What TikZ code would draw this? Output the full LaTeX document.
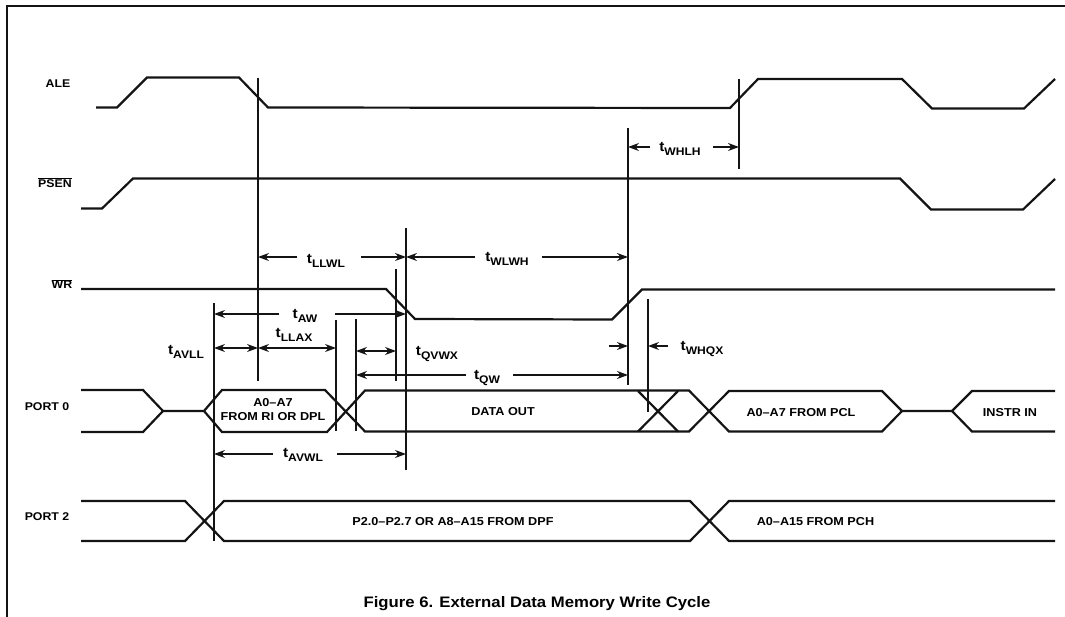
\documentclass[tikz,border=0pt]{standalone}
\usepackage{fontspec}
\setmainfont[FakeStretch=1.1]{Liberation Sans}
\usetikzlibrary{arrows.meta}
\newcommand{\tsub}[1]{{\fontsize{14}{14}\selectfont t}{\fontsize{11}{11}\selectfont\raisebox{-3.5pt}{#1}}}
\tikzset{
  signal/.style={line width=2.2pt,line join=miter,black!92},
  frameline/.style={line width=1.8pt,black!92},
  guide/.style={line width=1.2pt,black!92},
  dimarrow/.style={line width=1.1pt,black!92,-{Stealth[length=11pt,width=8pt]}},
  dimboth/.style={line width=1.1pt,black!92,{Stealth[length=11pt,width=8pt]}-{Stealth[length=11pt,width=8pt]}},
  siglabel/.style={inner sep=0pt,font=\bfseries\fontsize{11.2}{11.2}\selectfont},
  inlabel/.style={inner sep=0pt,font=\bfseries\fontsize{11.5}{11.5}\selectfont},
  timelabel/.style={inner sep=0pt,font=\bfseries},
  caption/.style={inner sep=0pt,font=\bfseries\fontsize{15.2}{15.2}\selectfont}
}
\begin{document}
\begin{tikzpicture}[x=1pt,y=-1pt]
\useasboundingbox (0,0) rectangle (1065,617);
% frame
\coordinate (fa) at (7,617);
\coordinate (fb) at (7,6);
\coordinate (fc) at (1065,6);
\draw[frameline] (fa) -- (fb) -- (fc);
% signal names
\node[siglabel] (ale) at (58,84) {ALE};
\node[siglabel] (psen) at (55,183) {$\overline{\mbox{PSEN}}$};
\node[siglabel] (wr) at (62,284) {$\overline{\mbox{WR}}$};
\node[siglabel] (port0) at (47,407) {PORT 0};
\node[siglabel] (port2) at (47,517) {PORT 2};
% waveforms
\draw[signal] (96,107.5) -- (117,107.5) -- (147,77.5) -- (239,77.5) -- (268,107.5) -- (730,108) -- (758,79) -- (902,79) -- (932,108.5) -- (1024,108.5) -- (1055,79);
\draw[signal] (81,208.5) -- (102,208.5) -- (133,178.5) -- (900,178.5) -- (931,209.5) -- (1023,209.5) -- (1055,179);
\draw[signal] (81,289) -- (386,289) -- (415,319) -- (612,319.5) -- (642,289.5) -- (1055,289.5);
% port 0
\draw[signal] (81,390) -- (143,390) -- (163,411) -- (204,411) -- (222,390) -- (325,390) -- (365,431.5) -- (689,431.5) -- (729,391) -- (882,391) -- (902,411) -- (952,411) -- (972,391) -- (1055,391);
\draw[signal] (81,432) -- (143,432) -- (163,411);
\draw[signal] (204,411) -- (222,432) -- (327,432) -- (365,390.5) -- (689,390.5) -- (729,431.5) -- (882,431.5) -- (902,411);
\draw[signal] (952,411) -- (972,431.5) -- (1055,431.5);
\draw[signal] (638,431.5) -- (678,391);
\draw[signal] (638,391) -- (678,431.5);
% port 2
\draw[signal] (81,501) -- (185,501) -- (224,541) -- (690,541) -- (729,501) -- (1055,501);
\draw[signal] (81,541) -- (185,541) -- (224,501) -- (690,501) -- (729,541) -- (1055,541);
% vertical guides
\coordinate (v1t) at (258,78);   \coordinate (v1b) at (258,381);
\coordinate (v2t) at (214,303); \coordinate (v2b) at (214,541);
\coordinate (v3t) at (406,228);  \coordinate (v3b) at (406,470);
\coordinate (v4t) at (396,269);  \coordinate (v4b) at (396,381);
\coordinate (v5t) at (336,320); \coordinate (v5b) at (336,431);
\coordinate (v6t) at (356,319);  \coordinate (v6b) at (356,431);
\coordinate (v7t) at (628,128);  \coordinate (v7b) at (628,385);
\coordinate (v8t) at (648,299);  \coordinate (v8b) at (648,412);
\coordinate (v9t) at (739,79);   \coordinate (v9b) at (739,169);
\foreach \v in {v1,v2,v3,v4,v5,v6,v7,v8,v9} \draw[guide] (\v t) -- (\v b);
% timing labels
\node[timelabel] (tllwl) at (326,261) {\tsub{LLWL}};
\node[timelabel] (twlwh) at (507,259) {\tsub{WLWH}};
\node[timelabel] (twhlh) at (680,149) {\tsub{WHLH}};
\node[timelabel] (taw) at (305,316) {\tsub{AW}};
\node[timelabel] (tllax) at (294,335) {\tsub{LLAX}};
\node[timelabel] (tavll) at (186,352) {\tsub{AVLL}};
\node[timelabel] (tqvwx) at (437,354) {\tsub{QVWX}};
\node[timelabel] (tqw) at (487,378) {\tsub{QW}};
\node[timelabel] (twhqx) at (702,349) {\tsub{WHQX}};
\node[timelabel] (tavwl) at (303,455) {\tsub{AVWL}};
% free ends of the dimension arrows
\coordinate (a1l) at (297,257);  \coordinate (a1r) at (361,257);
\coordinate (a2l) at (475,257);  \coordinate (a2r) at (542,257);
\coordinate (a3l) at (650,147);  \coordinate (a3r) at (713,147);
\coordinate (a4l) at (279,314);  \coordinate (a4r) at (335,314);
\coordinate (a5l) at (466,375);  \coordinate (a5r) at (513,375);
\coordinate (a6l) at (273,454);  \coordinate (a6r) at (337,454);
\coordinate (a7l) at (609,346);  \coordinate (a7r) at (668,346);
\coordinate (a8) at (258,348);   \coordinate (a9) at (356,351);
% dimension arrows
\draw[dimarrow] (a1l) -- (a1l -| v1t);
\draw[dimarrow] (a1r) -- (a1r -| v3t);
\draw[dimarrow] (a2l) -- (a2l -| v3t);
\draw[dimarrow] (a2r) -- (a2r -| v7t);
\draw[dimarrow] (a3l) -- (a3l -| v7t);
\draw[dimarrow] (a3r) -- (a3r -| v9t);
\draw[dimarrow] (a4l) -- (a4l -| v2t);
\draw[dimarrow] (a4r) -- (a4r -| v3t);
\draw[dimarrow] (a5l) -- (a5l -| v6t);
\draw[dimarrow] (a5r) -- (a5r -| v7t);
\draw[dimarrow] (a6l) -- (a6l -| v2t);
\draw[dimarrow] (a6r) -- (a6r -| v3t);
\draw[dimarrow] (a7l) -- (a7l -| v7t);
\draw[dimarrow] (a7r) -- (a7r -| v8t);
\draw[dimboth] (a8 -| v2t) -- (a8);
\draw[dimboth] (a8) -- (a8 -| v5t);
\draw[dimboth] (a9) -- (a9 -| v4t);
% bus contents
\node[inlabel] (ra) at (273,403) {A0--A7};
\node[inlabel] (rb) at (273,417) {FROM RI OR DPL};
\node[inlabel] (dout) at (503,412) {DATA OUT};
\node[inlabel] (pcl) at (801,413) {A0--A7 FROM PCL};
\node[inlabel] (instr) at (1010,413) {INSTR IN};
\node[inlabel] (p2a) at (453,522) {P2.0--P2.7 OR A8--A15 FROM DPF};
\node[inlabel] (pch) at (815.5,522) {A0--A15 FROM PCH};
% caption
\node[caption] (cap) at (537,604) {Figure 6. External Data Memory Write Cycle};
\end{tikzpicture}
\end{document}
